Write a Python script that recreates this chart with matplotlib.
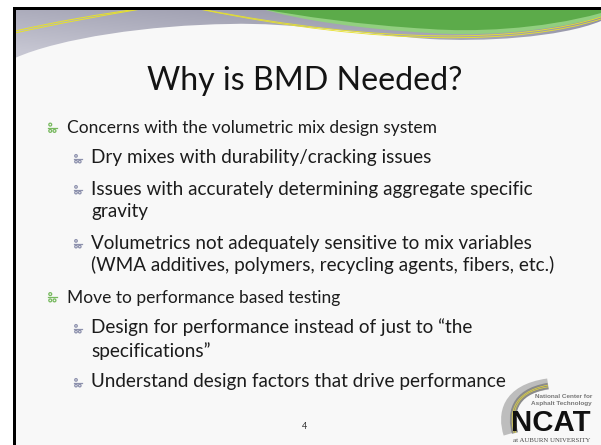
import matplotlib
matplotlib.use("Agg")
import matplotlib.pyplot as plt
import numpy as np
from matplotlib.path import Path
from matplotlib.patches import PathPatch, Rectangle, Circle

# ---------------- content ----------------
title = "Why is BMD Needed?"
lines = [
    "Concerns with the volumetric mix design system",
    "Dry mixes with durability/cracking issues",
    "Issues with accurately determining aggregate specific",
    "gravity",
    "Volumetrics not adequately sensitive to mix variables",
    "(WMA additives, polymers, recycling agents, fibers, etc.)",
    "Move to performance based testing",
    "Design for performance instead of just to \u201cthe",
    "specifications\u201d",
    "Understand design factors that drive performance",
]
levels = [1, 2, 2, 2, 2, 2, 1, 2, 2, 2]
has_bullet = [True, True, True, False, True, False, True, True, False, True]
page_number = "4"
logo_top = ["National Center for", "Asphalt Technology"]
logo_main = "NCAT"
logo_sub = "at AUBURN UNIVERSITY"

# ---------------- layout ----------------
W, H = 601, 445
baselines = [133, 163.5, 194.5, 217.5, 248.5, 271.5, 302.5, 333.5, 356.5, 387.5]
text_x = {1: 67, 2: 91}
bullet_x = {1: 48, 2: 74}
bullet_size = {1: (9, 10.5), 2: (8, 9.5)}
bullet_col = {1: "#78b95f", 2: "#8d91ad"}
FONT = ["Lato", "DejaVu Sans"]

fig = plt.figure(figsize=(W / 100, H / 100), dpi=100)
ax = fig.add_axes([0, 0, 1, 1])
ax.set_xlim(0, W)
ax.set_ylim(H, 0)
ax.axis("off")
fig.patch.set_facecolor("white")

# slide background
ax.add_patch(Rectangle((15, 9), W - 15, H - 9, facecolor="#f8f8f8", edgecolor="none", zorder=0))

# ----- grey banner with gradient -----
grey_verts = [(15, 9), (W, 9), (W, 21),
              (560, 38), (480, 42), (430, 39),
              (370, 35), (290, 22), (230, 24),
              (150, 25), (60, 38), (15, 58),
              (15, 9)]
grey_codes = [Path.MOVETO, Path.LINETO, Path.LINETO,
              Path.CURVE4, Path.CURVE4, Path.CURVE4,
              Path.CURVE4, Path.CURVE4, Path.CURVE4,
              Path.CURVE4, Path.CURVE4, Path.CURVE4,
              Path.CLOSEPOLY]
grey_patch = PathPatch(Path(grey_verts, grey_codes), facecolor="none", edgecolor="none", zorder=1)
ax.add_patch(grey_patch)
gx = np.linspace(15, W, 300)
gy = np.linspace(9, 60, 60)
GX, GY = np.meshgrid(gx, gy)
t = np.clip(0.55 * (1 - (GX - 15) / (W - 15)) + 0.55 * (GY - 9) / 50, 0, 1)
dark = np.array([0x8c, 0x8c, 0xa0]) / 255
light = np.array([0xc6, 0xc6, 0xd2]) / 255
img = dark[None, None, :] * (1 - t[..., None]) + light[None, None, :] * t[..., None]
im = ax.imshow(img, extent=(15, W, 60, 9), aspect="auto", zorder=1, interpolation="bilinear")
im.set_clip_path(grey_patch)

# ----- green region -----
def green_path(dy):
    v = [(262, 9), (W, 9), (W, 13 + dy),
         (540, 30 + dy), (470, 32 + dy), (430, 29 + dy),
         (360, 25 + dy), (300, 16 + dy), (262, 9),
         (262, 9)]
    c = [Path.MOVETO, Path.LINETO, Path.LINETO,
         Path.CURVE4, Path.CURVE4, Path.CURVE4,
         Path.CURVE4, Path.CURVE4, Path.CURVE4,
         Path.CLOSEPOLY]
    return Path(v, c)

ax.add_patch(PathPatch(green_path(4), facecolor="#92cf80", edgecolor="none", zorder=2))
ax.add_patch(PathPatch(green_path(0), facecolor="#5cab4a", edgecolor="none", zorder=3))

# ----- yellow lines -----
for off in (-1.0, 1.0):
    p1 = Path([(15, 32 + off), (60, 22 + off), (100, 15 + off), (140, 9 + off * 0.2)],
              [Path.MOVETO, Path.CURVE4, Path.CURVE4, Path.CURVE4])
    ax.add_patch(PathPatch(p1, facecolor="none", edgecolor="#e8e22a", lw=0.7, zorder=4))
    p2 = Path([(200, 9 + off * 0.2), (380, 45 + off), (520, 44 + off), (W, 18 + off)],
              [Path.MOVETO, Path.CURVE4, Path.CURVE4, Path.CURVE4])
    ax.add_patch(PathPatch(p2, facecolor="none", edgecolor="#e8e22a", lw=0.6, zorder=4))

# ----- black border (top & left) -----
ax.add_patch(Rectangle((13, 7), W - 13, 2.6, facecolor="black", edgecolor="none", zorder=6))
ax.add_patch(Rectangle((13, 7), 2.6, H - 7, facecolor="black", edgecolor="none", zorder=6))

# ----- title -----
t_title = ax.text(304.5, 90, title, ha="center", va="baseline", fontsize=26,
                  family=FONT, color="#141414", zorder=5)

# ----- body text -----
body = []
for s, lv, yb in zip(lines, levels, baselines):
    body.append(ax.text(text_x[lv], yb, s, ha="left", va="baseline",
                        fontsize=14 if lv == 1 else 13, family=FONT,
                        color="#1c1c1c", zorder=5))

# fit font sizes to the widths seen in the reference
fig.canvas.draw()
r = fig.canvas.get_renderer()
def scale_to(txt, target):
    w = txt.get_window_extent(r).width
    return target / w
s_title = scale_to(t_title, 315)
t_title.set_fontsize(t_title.get_fontsize() * s_title)
s1 = scale_to(body[6], 341 - 67)
s2 = scale_to(body[2], 530 - 91)
for txt, lv in zip(body, levels):
    txt.set_fontsize(txt.get_fontsize() * (s1 if lv == 1 else s2))

# ----- bullets -----
def draw_bullet(x0, yb, w, h, col):
    rr = w * 0.16
    lw = 0.9
    ax.add_patch(Circle((x0 + w * 0.25, yb - h * 0.8), rr, fill=False, edgecolor=col, lw=lw, zorder=5))
    ax.plot([x0, x0 + w * 0.95], [yb - h * 0.5, yb - h * 0.5], color=col, lw=lw, zorder=5)
    ax.add_patch(Circle((x0 + w * 0.25, yb - h * 0.2), rr, fill=False, edgecolor=col, lw=lw, zorder=5))
    ax.add_patch(Circle((x0 + w * 0.72, yb - h * 0.2), rr, fill=False, edgecolor=col, lw=lw, zorder=5))

for lv, b, yb in zip(levels, has_bullet, baselines):
    if b:
        w, h = bullet_size[lv]
        draw_bullet(bullet_x[lv], yb, w, h, bullet_col[lv])

# ----- page number -----
ax.text(305, 429, page_number, ha="center", va="baseline", fontsize=6.5,
        family=FONT, color="#333333", zorder=5)

# ----- NCAT logo -----
sw = Path([(548, 384), (506, 390), (503, 415), (509, 434)],
          [Path.MOVETO, Path.CURVE4, Path.CURVE4, Path.CURVE4])
ax.add_patch(PathPatch(sw, facecolor="none", edgecolor="#bdbdbd", lw=8, zorder=5, capstyle="butt"))
sw2 = Path([(548, 386), (512, 392), (510, 415), (515, 433)],
           [Path.MOVETO, Path.CURVE4, Path.CURVE4, Path.CURVE4])
ax.add_patch(PathPatch(sw2, facecolor="none", edgecolor="#8a8a8a", lw=4.5, zorder=5, capstyle="butt"))
for off in (-0.9, 0.9):
    sy = Path([(548, 386 + off), (512 + off, 392), (510 + off, 415), (515 + off, 433)],
              [Path.MOVETO, Path.CURVE4, Path.CURVE4, Path.CURVE4])
    ax.add_patch(PathPatch(sy, facecolor="none", edgecolor="#e6d83a", lw=0.5, zorder=6))

ax.text(592, 398.5, logo_top[0], ha="right", va="baseline", fontsize=4.6,
        family=["Liberation Sans", "DejaVu Sans"], weight="bold", color="#777777", zorder=7)
ax.text(592, 405.5, logo_top[1], ha="right", va="baseline", fontsize=4.6,
        family=["Liberation Sans", "DejaVu Sans"], weight="bold", color="#777777", zorder=7)
ncat = ax.text(591, 431, logo_main, ha="right", va="baseline", fontsize=19,
               family=["Liberation Sans", "DejaVu Sans"], weight="heavy", color="#111111", zorder=7)
sub = ax.text(551.5, 442.5, logo_sub, ha="center", va="baseline", fontsize=4.0,
              family=["Liberation Serif", "DejaVu Serif"], color="#444444", zorder=7)
fig.canvas.draw()
ncat.set_fontsize(ncat.get_fontsize() * scale_to(ncat, 79))
sub.set_fontsize(sub.get_fontsize() * scale_to(sub, 76))

ax.set_xlim(0, W)
ax.set_ylim(H, 0)
fig.savefig("out.png", dpi=100)
